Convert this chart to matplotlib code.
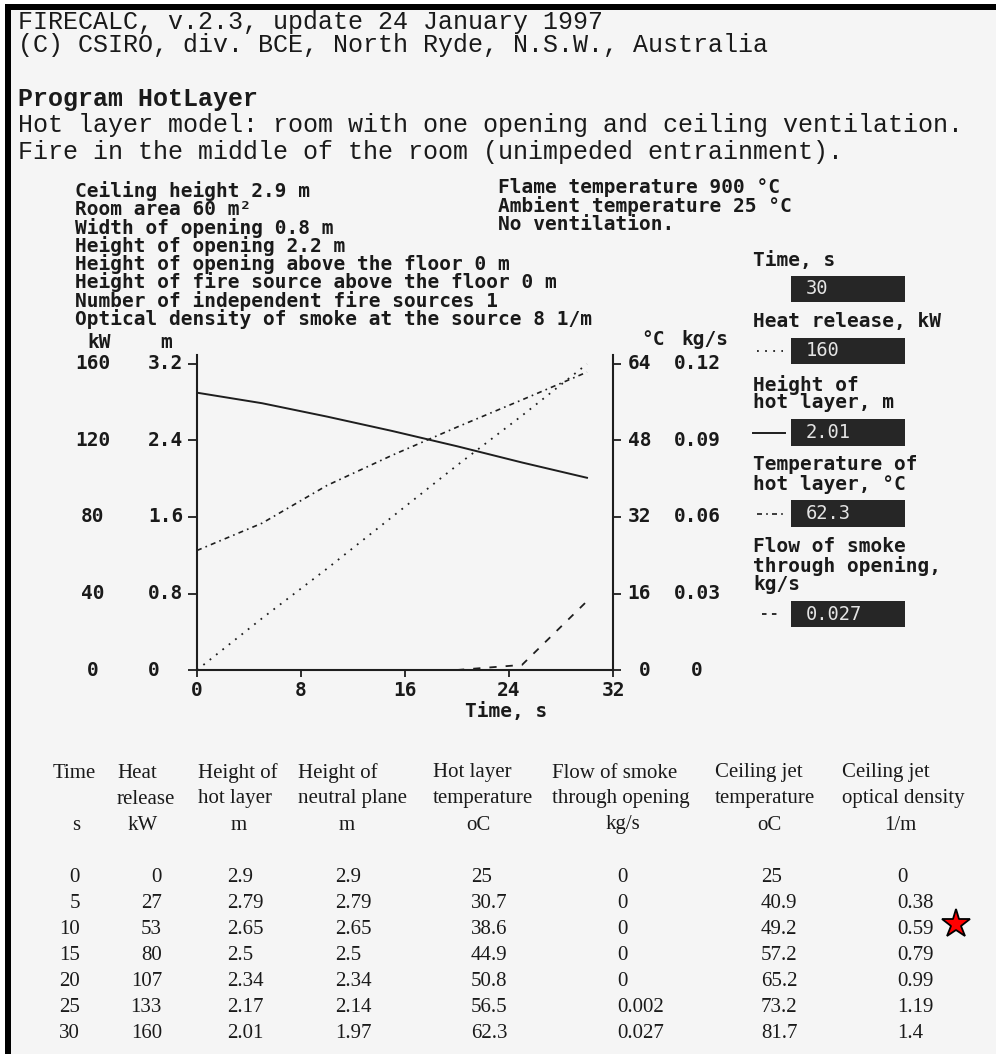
import matplotlib
matplotlib.use('Agg')
import matplotlib.pyplot as plt
from matplotlib.lines import Line2D
from matplotlib.patches import Rectangle
from matplotlib.transforms import blended_transform_factory as blend

# results table (FIRECALC HotLayer run)
time_s = [0, 5, 10, 15, 20, 25, 30]
heat_release = [0, 27, 53, 80, 107, 133, 160]
hot_layer_height = [2.9, 2.79, 2.65, 2.5, 2.34, 2.17, 2.01]
neutral_plane = [2.9, 2.79, 2.65, 2.5, 2.34, 2.14, 1.97]
hot_layer_temp = [25, 30.7, 38.6, 44.9, 50.8, 56.5, 62.3]
smoke_flow = [0, 0, 0, 0, 0, 0.002, 0.027]
jet_temp = [25, 40.9, 49.2, 57.2, 65.2, 73.2, 81.7]
jet_density = [0, 0.38, 0.59, 0.79, 0.99, 1.19, 1.4]

# axis ticks
x_ticks = [0, 8, 16, 24, 32]
kw_ticks = [0, 40, 80, 120, 160]
m_ticks = [0, 0.8, 1.6, 2.4, 3.2]
degc_ticks = [0, 16, 32, 48, 64]
kgs_ticks = [0, 0.03, 0.06, 0.09, 0.12]

header_lines = [
    "FIRECALC, v.2.3, update 24 January 1997",
    "(C) CSIRO, div. BCE, North Ryde, N.S.W., Australia",
    "Program HotLayer",
    "Hot layer model: room with one opening and ceiling ventilation.",
    "Fire in the middle of the room (unimpeded entrainment).",
]
params_left = [
    "Ceiling height 2.9 m",
    "Room area 60 m\u00b2",
    "Width of opening 0.8 m",
    "Height of opening 2.2 m",
    "Height of opening above the floor 0 m",
    "Height of fire source above the floor 0 m",
    "Number of independent fire sources 1",
    "Optical density of smoke at the source 8 1/m",
]
params_right = [
    "Flame temperature 900 \u00b0C",
    "Ambient temperature 25 \u00b0C",
    "No ventilation.",
]
table_headers = [
    ["Time", "", "s"],
    ["Heat", "release", "kW"],
    ["Height of", "hot layer", "m"],
    ["Height of", "neutral plane", "m"],
    ["Hot layer", "temperature", "oC"],
    ["Flow of smoke", "through opening", "kg/s"],
    ["Ceiling jet", "temperature", "oC"],
    ["Ceiling jet", "optical density", "1/m"],
]

W, H = 996, 1054


def fx(x):
    return x / W


def fy(y):
    return 1 - y / H


PIX = dict(family='DejaVu Sans Mono', weight='bold', size=14, color='#1a1a1a')
MONO = dict(family='Liberation Mono', color='#1a1a1a')
TABLE = dict(family='Liberation Serif', size=15, color='#1a1a1a')
INK = '#1e1e1e'

fig = plt.figure(figsize=(W / 100, H / 100), dpi=100, facecolor='white')

# page background and the scanned frame
fig.add_artist(Rectangle((fx(5), 0), 1 - fx(5), fy(4), transform=fig.transFigure,
                         facecolor='#f5f5f5', edgecolor='none', zorder=-10))
fig.add_artist(Rectangle((fx(5), fy(10)), 1 - fx(5), 6 / H, transform=fig.transFigure,
                         facecolor='black', edgecolor='none'))
fig.add_artist(Rectangle((fx(5), 0), 6 / W, fy(4), transform=fig.transFigure,
                         facecolor='black', edgecolor='none'))

# header
header_y = [22, 45, 99, 125, 152]
for line, y in zip(header_lines, header_y):
    fig.text(fx(18), fy(y), line, fontsize=18, va='center', ha='left',
             weight='bold' if line.startswith('Program') else 'normal', **MONO)

# input parameters
for i, line in enumerate(params_left):
    fig.text(fx(75), fy(191 + 18.3 * i), line, va='center', ha='left', **PIX)
for i, line in enumerate(params_right):
    fig.text(fx(498), fy(187 + 19 * i), line, va='center', ha='left', **PIX)

# chart
bottom_px, top_px, tick_top_px = 670, 355, 364
k = (bottom_px - top_px) / (bottom_px - tick_top_px)
ax = fig.add_axes([fx(197), fy(bottom_px), (613 - 197) / W, (bottom_px - top_px) / H])
ax.patch.set_visible(False)
ax_kw = ax.twinx()
ax_c = ax.twinx()
ax_kg = ax.twinx()

ax.set_xlim(0, 32)
ax.set_ylim(0, m_ticks[-1] * k)
ax_kw.set_ylim(0, kw_ticks[-1] * k)
ax_c.set_ylim(0, degc_ticks[-1] * k)
ax_kg.set_ylim(0, kgs_ticks[-1] * k)

for a in (ax, ax_kw, ax_c, ax_kg):
    for s in a.spines.values():
        s.set_visible(False)
    a.set_yticks([])
ax.spines['left'].set_visible(True)
ax.spines['bottom'].set_visible(True)
ax_c.spines['right'].set_visible(True)
for s in (ax.spines['left'], ax.spines['bottom'], ax_c.spines['right']):
    s.set_linewidth(1.5)
    s.set_color(INK)

ax.set_yticks(m_ticks)
ax.set_yticklabels([])
ax.tick_params(axis='y', direction='out', length=6.5, width=1.3, color=INK)
ax_c.set_yticks(degc_ticks)
ax_c.set_yticklabels([])
ax_c.tick_params(axis='y', direction='out', length=5.5, width=1.3, color=INK)
ax.set_xticks(x_ticks)
ax.set_xticklabels([str(t) for t in x_ticks], fontdict=PIX)
ax.tick_params(axis='x', direction='out', length=5, width=1.3, color=INK, pad=3)

ax_kw.plot(time_s, heat_release, color=INK, lw=1.3, ls=(0, (1, 3.5)))
ax.plot(time_s, hot_layer_height, color=INK, lw=1.4, ls='-')
ax_c.plot(time_s, hot_layer_temp, color=INK, lw=1.2, ls=(0, (3, 2.5, 1, 2.5)))
ax_kg.plot(time_s[4:], smoke_flow[4:], color=INK, lw=1.3, ls=(0, (4, 5)))

# tick label columns
for v in kw_ticks:
    ax.text(fx(93), v, str(v), transform=blend(fig.transFigure, ax_kw.transData),
            ha='center', va='center', **PIX)
for v in m_ticks:
    ax.text(fx(148), v, '0' if v == 0 else f'{v:.1f}', transform=blend(fig.transFigure, ax.transData),
            ha='left', va='center', **PIX)
for v in degc_ticks:
    ax.text(fx(651), v, str(v), transform=blend(fig.transFigure, ax_c.transData),
            ha='right', va='center', **PIX)
for v in kgs_ticks:
    ax.text(fx(697), v, '0' if v == 0 else f'{v:.2f}', transform=blend(fig.transFigure, ax_kg.transData),
            ha='center', va='center', **PIX)

fig.text(fx(99), fy(343), 'kW', ha='center', va='center', **PIX)
fig.text(fx(166), fy(343), 'm', ha='center', va='center', **PIX)
fig.text(fx(653), fy(340), '\u00b0C', ha='center', va='center', **PIX)
fig.text(fx(705), fy(340), 'kg/s', ha='center', va='center', **PIX)
fig.text(fx(506), fy(711), 'Time, s', ha='center', va='center', **PIX)

# right-hand readout panel
panel_labels = [
    ("Time, s", 261), ("Heat release, kW", 322), ("Height of", 385), ("hot layer, m", 403),
    ("Temperature of", 465), ("hot layer, \u00b0C", 484), ("Flow of smoke", 547),
    ("through opening,", 566), ("kg/s", 585),
]
for txt, y in panel_labels:
    fig.text(fx(753), fy(y), txt, ha='left', va='center', **PIX)

readouts = [
    (f'{time_s[-1]:g}', 276, 302, None),
    (f'{heat_release[-1]:g}', 338, 364, ((757, 783), (0, (1, 3.5)), 1.3)),
    (f'{hot_layer_height[-1]:g}', 419, 446, ((753, 785), '-', 1.4)),
    (f'{hot_layer_temp[-1]:g}', 500, 527, ((757, 783), (0, (3, 2.5, 1, 2.5)), 1.2)),
    (f'{smoke_flow[-1]:g}', 601, 627, ((762, 781), (0, (2.5, 3)), 1.3)),
]
for val, y0, y1, sample in readouts:
    fig.add_artist(Rectangle((fx(791), fy(y1)), (905 - 791) / W, (y1 - y0) / H,
                             transform=fig.transFigure, facecolor='#262626', edgecolor='none'))
    fig.text(fx(806), fy((y0 + y1) / 2), val, ha='left', va='center',
             family='DejaVu Sans Mono', size=13.5, color='#e4e4e4')
    if sample:
        (x0, x1), ls, lw = sample
        yc = fy((y0 + y1) / 2)
        fig.add_artist(Line2D([fx(x0), fx(x1)], [yc, yc], transform=fig.transFigure,
                              color=INK, lw=lw, ls=ls))

# results table
columns = [time_s, heat_release, hot_layer_height, neutral_plane,
           hot_layer_temp, smoke_flow, jet_temp, jet_density]
head_x = [53, 117, 198, 298, 433, 552, 715, 842]
unit_x = [76, 143, 239, 347, 478, 623, 769, 900]
data_x = [80, 162, 227, 335, 471, 617, 761, 897]
data_ha = ['right', 'right', 'left', 'left', 'left', 'left', 'left', 'left']
head_y = [773, 799, 825]
row_y0, row_dy = 877, 26

for c, (hdr, col) in enumerate(zip(table_headers, columns)):
    fig.text(fx(head_x[c]), fy(head_y[0]), hdr[0], ha='left', va='center', **TABLE)
    fig.text(fx(head_x[c]), fy(head_y[1]), hdr[1], ha='left', va='center', **TABLE)
    fig.text(fx(unit_x[c]), fy(head_y[2]), hdr[2], ha='center', va='center', **TABLE)
    for r, v in enumerate(col):
        fig.text(fx(data_x[c]), fy(row_y0 + row_dy * r), f'{v:g}', ha=data_ha[c],
                 va='center', **TABLE)

# red star marking the 10 s optical density
fig.add_artist(Line2D([fx(956)], [fy(row_y0 + row_dy * 2 - 5)], transform=fig.transFigure,
                      marker='*', ms=21, mfc='red', mec='black', mew=1.3, ls='none'))

fig.savefig('out.png', dpi=100, facecolor=fig.get_facecolor())
